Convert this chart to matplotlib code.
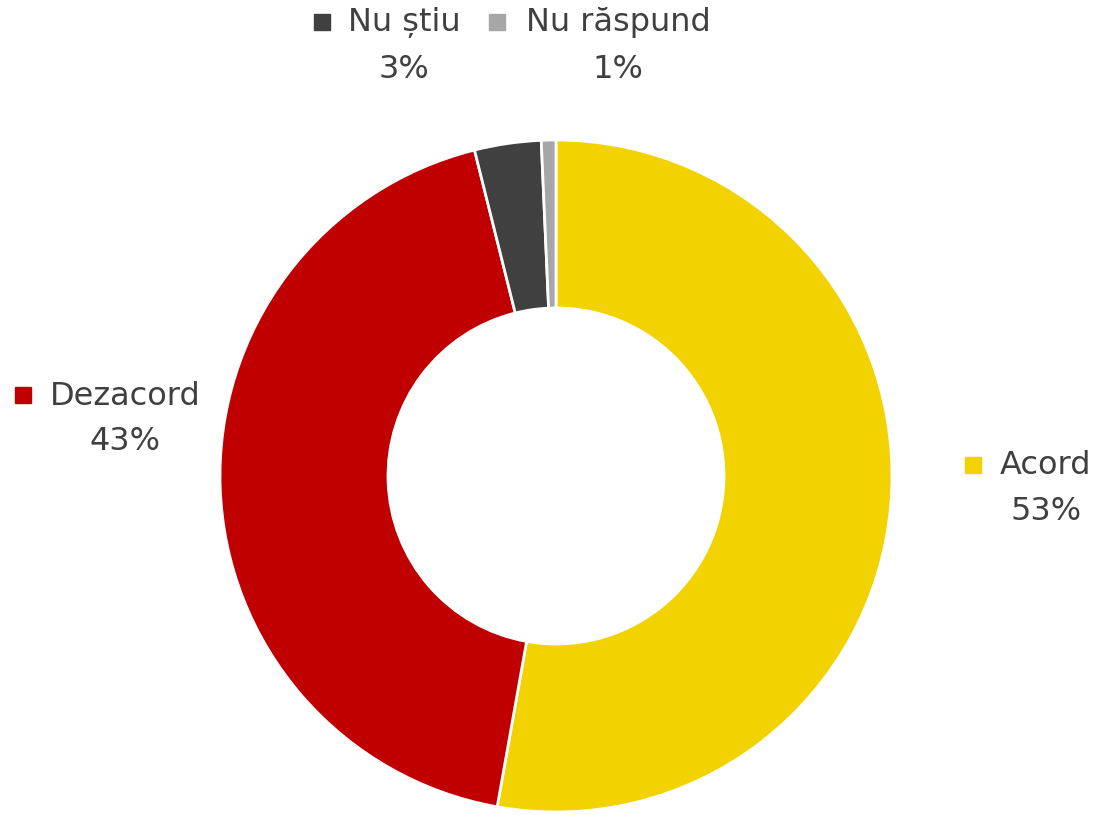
import matplotlib.pyplot as plt

plt.rcParams['font.family'] = ['DejaVu Sans']

# data
categories = ['Acord', 'Dezacord', 'Nu știu', 'Nu răspund']
values = [52.8, 43.3, 3.2, 0.7]
pct_labels = ['53%', '43%', '3%', '1%']
colors = ['#F2D200', '#C00000', '#404040', '#A6A6A6']

W, H = 1100, 815
fig = plt.figure(figsize=(W / 100, H / 100), dpi=100)

# donut centre (556, 476) px, radius 336 px
cx, cy, r = 556, 476, 336
ax = fig.add_axes([(cx - r) / W, (H - cy - r) / H, 2 * r / W, 2 * r / H])
ax.pie(values, colors=colors, startangle=90, counterclock=False, radius=1,
       wedgeprops=dict(width=0.5, edgecolor='white', linewidth=2))
ax.set_xlim(-1, 1)
ax.set_ylim(-1, 1)
ax.set_aspect('equal')
ax.axis('off')

# label layout in pixels: (marker x, text centre x, first line y)
label_pos = {
    'Acord': (973, 1046, 466),
    'Dezacord': (23, 125, 396),
    'Nu știu': (322, 404, 23),
    'Nu răspund': (497, 618, 23),
}
line_gap = 46
txt_color = '#404040'

for cat, pct, col in zip(categories, pct_labels, colors):
    mx, tx, ty = label_pos[cat]
    fig.text(tx / W, 1 - ty / H, cat, ha='center', va='center',
             fontsize=23, color=txt_color)
    fig.text(tx / W, 1 - (ty + line_gap) / H, pct, ha='center', va='center',
             fontsize=23, color=txt_color)
    ax.plot([mx / W], [1 - (ty - 1) / H], marker='s', ms=12, color=col,
            transform=fig.transFigure, clip_on=False, linestyle='none')

fig.savefig('out.png', dpi=100)
